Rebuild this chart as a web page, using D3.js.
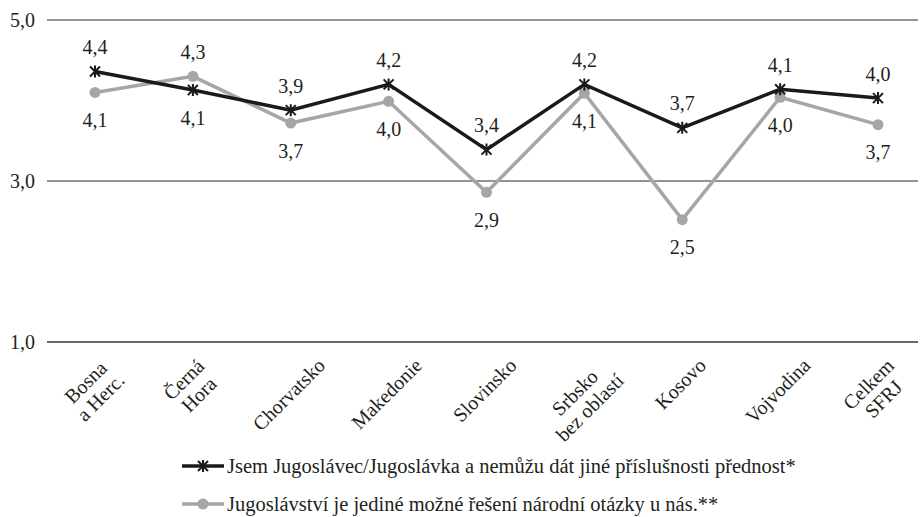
<!DOCTYPE html>
<html>
<head>
<meta charset="utf-8">
<script src="https://cdn.jsdelivr.net/npm/d3@7"></script>
<style>
  body { margin: 0; background: #fff; }
</style>
</head>
<body>
<svg id="chart" width="921" height="517"></svg>
<script>
const categories = [
  ["Bosna", "a Herc."], ["Černá", "Hora"], ["Chorvatsko"], ["Makedonie"], ["Slovinsko"],
  ["Srbsko", "bez oblastí"], ["Kosovo"], ["Vojvodina"], ["Celkem", "SFRJ"]
];
const seriesNames = [
  "Jsem Jugoslávec/Jugoslávka a nemůžu dát jiné příslušnosti přednost*",
  "Jugoslávství je jediné možné řešení národní otázky u nás.**"
];
const blackValues = [4.36, 4.13, 3.88, 4.2, 3.39, 4.2, 3.66, 4.14, 4.03];
const grayValues = [4.1, 4.3, 3.72, 3.99, 2.86, 4.09, 2.52, 4.04, 3.7];
const yTicks = [1, 3, 5];

const svg = d3.select("#chart");

const keys = categories.map(c => c.join(" "));
const x = d3.scalePoint().domain(keys).range([95, 878]);
const y = d3.scaleLinear().domain([1, 5]).range([342, 20]);
const fmt = v => d3.format(".1f")(v).replace(".", ",");
const txt = sel => sel.style("font-family", '"Liberation Serif"').attr("fill", "#231f20");

// gridlines + y labels
svg.selectAll(".grid").data(yTicks).enter().append("line")
  .attr("x1", 47).attr("x2", 918)
  .attr("y1", d => y(d)).attr("y2", d => y(d))
  .attr("stroke", d => d === 1 ? "#666" : "#2a2a2a")
  .attr("stroke-width", d => d === 1 ? 2 : 1.2);

svg.selectAll(".ylab").data(yTicks).enter().append("text")
  .call(txt)
  .attr("x", 35).attr("y", d => y(d) + 6.5)
  .attr("text-anchor", "end").style("font-size", "20px")
  .text(d => fmt(d));

// x labels, rotated -45, bbox centred on the tick
const xl = svg.selectAll(".xlab").data(categories).enter().append("g");
xl.each(function(d, i) {
  const g = d3.select(this);
  const t = g.append("text").call(txt).attr("text-anchor", "middle")
    .attr("transform", "rotate(-45)").style("font-size", "20px");
  d.forEach((line, j) => {
    t.append("tspan").attr("x", 0).attr("y", j * 21).text(line);
  });
  const bb = this.getBBox();
  g.attr("transform", `translate(${x(keys[i]) - 2 - (bb.x + bb.width / 2)},${354 - bb.y})`);
});

const series = [
  { name: seriesNames[0], values: blackValues, color: "#1a1a1a", marker: "star" },
  { name: seriesNames[1], values: grayValues, color: "#a6a6a6", marker: "circle" }
];

const line = d3.line().x((d, i) => x(keys[i])).y(d => y(d));
const starPath = "M-5,-5L5,5M-5,5L5,-5M0,-6L0,6";

const drawMarker = (sel, s) => {
  if (s.marker === "star") {
    sel.append("path").attr("d", starPath).attr("stroke", s.color)
      .attr("stroke-width", 2).attr("fill", "none");
  } else {
    sel.append("circle").attr("r", 5.5).attr("fill", s.color);
  }
};

// gray first so black sits on top
[series[1], series[0]].forEach(s => {
  svg.append("path").datum(s.values).attr("d", line)
    .attr("fill", "none").attr("stroke", s.color).attr("stroke-width", 3.5);
  s.values.forEach((v, i) => {
    const g = svg.append("g").attr("transform", `translate(${x(keys[i])},${y(v)})`);
    drawMarker(g, s);
  });
});

// data labels: the higher of the two goes above
series.forEach((s, si) => {
  const other = series[1 - si].values;
  svg.selectAll(null).data(s.values).enter().append("text")
    .call(txt)
    .attr("x", (d, i) => x(keys[i]))
    .attr("y", (d, i) => d >= other[i] ? y(d) - 17.5 : y(d) + 34.5)
    .attr("text-anchor", "middle").style("font-size", "20px")
    .text(d => fmt(d));
});

// legend
series.forEach((s, i) => {
  const ly = 466 + i * 38;
  const g = svg.append("g");
  g.append("line").attr("x1", 182).attr("x2", 224).attr("y1", ly).attr("y2", ly)
    .attr("stroke", s.color).attr("stroke-width", 3.5);
  drawMarker(g.append("g").attr("transform", `translate(203,${ly})`), s);
  g.append("text").call(txt).attr("x", 227).attr("y", ly + 6.5)
    .style("font-size", "20.5px").text(s.name);
});
</script>
</body>
</html>
